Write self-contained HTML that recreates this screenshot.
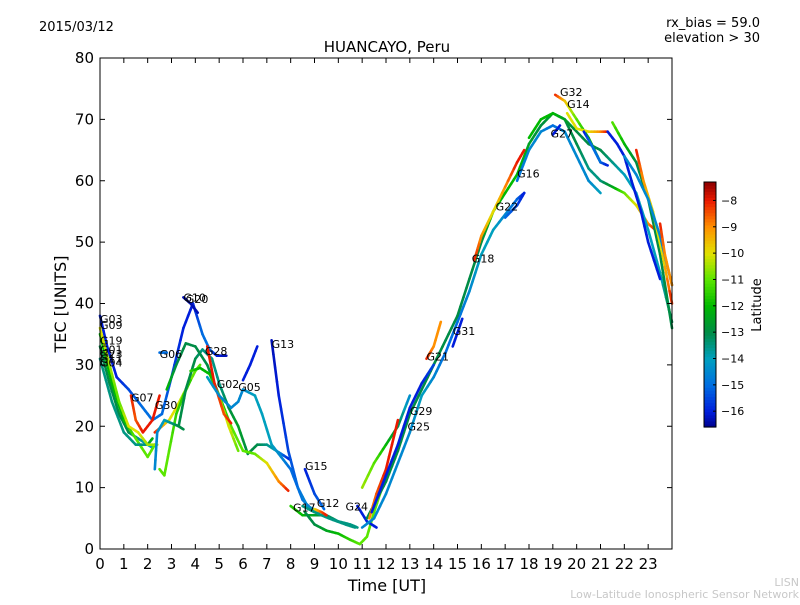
<!DOCTYPE html>
<html><head><meta charset="utf-8"><style>
body{margin:0;background:#fff;}
svg text{font-family:"DejaVu Sans","Liberation Sans",sans-serif;}
</style></head><body>
<svg id="chart" width="800" height="600" xmlns="http://www.w3.org/2000/svg">
<rect width="800" height="600" fill="#fff"/>
<text x="39" y="31" font-size="13">2015/03/12</text>
<text x="760" y="27" font-size="13" text-anchor="end">rx_bias = 59.0</text>
<text x="760" y="42" font-size="13" text-anchor="end">elevation &gt; 30</text>
<text x="387" y="52" font-size="15" text-anchor="middle">HUANCAYO, Peru</text>
<g id="marks"></g>
<rect x="100" y="58" width="572" height="491" fill="none" stroke="#000" stroke-width="1"/>
<g id="axes"></g>
<text x="387" y="591" font-size="16" text-anchor="middle">Time [UT]</text>
<text x="66" y="304" font-size="16" text-anchor="middle" transform="rotate(-90 66 304)">TEC [UNITS]</text>
<g id="cbar"></g>
<text x="761" y="305" font-size="13" text-anchor="middle" transform="rotate(-90 761 305)">Latitude</text>
<text x="799" y="586" font-size="11" fill="#c8c8c8" text-anchor="end">LISN</text>
<text x="799" y="598" font-size="11" fill="#c8c8c8" text-anchor="end">Low-Latitude Ionospheric Sensor Network</text>
</svg>
<script>
const xTicks=[0,1,2,3,4,5,6,7,8,9,10,11,12,13,14,15,16,17,18,19,20,21,22,23];
const yTicks=[0,10,20,30,40,50,60,70,80];
const cbarTicks=[-8,-9,-10,-11,-12,-13,-14,-15,-16];
// tracks: [hour, TEC, latitude]
const tracks=[
[[0,38,-16],[0.3,33,-16],[0.7,28,-16],[1.2,26,-15.5],[1.8,23,-15],[2.2,21,-15],[2.6,22,-15],[3,28,-15.5],[3.5,36,-16],[3.9,40,-16],[4.3,35,-15],[4.6,32.5,-15],[4.9,31.5,-16],[5.3,31.5,-16.3]],
[[3.5,41,-16.3],[3.8,40,-16.3],[4.1,38.5,-16.3]],
[[2.5,32,-15],[2.8,32,-15]],
[[0,33,-13],[0.4,27,-13],[0.8,22,-13],[1.2,19,-13],[1.6,18,-13.5],[2,17,-14],[2.2,16.5,-14]],
[[0,35,-12],[0.5,27,-12],[1,21,-12],[1.5,18,-11],[2,15,-11],[2.3,17,-11]],
[[0,31,-13.5],[0.5,24,-13.5],[1,19,-13.5],[1.5,17,-13.5],[2,17,-13.5],[2.2,18,-12]],
[[0,36,-10],[0.4,30,-10.5],[0.8,24,-11],[1.2,20,-10],[1.6,19,-10],[2,17,-10.5],[2.4,17,-10.5]],
[[1.3,25,-8],[1.5,21,-8.5],[1.8,19,-8],[2.2,21,-8],[2.5,25,-8]],
[[2.3,19,-8],[2.6,20,-9],[2.9,21,-10],[3.2,23,-10],[3.6,26,-10.5],[4,29,-11],[4.2,30,-11]],
[[2.5,13,-11],[2.7,12,-11],[2.9,16,-11],[3.2,22,-11.5],[3.5,25,-11.5],[3.8,27.5,-11.5]],
[[2.3,13,-14.5],[2.4,19,-14.5],[2.7,21,-14],[3,20.5,-13.5],[3.3,20,-13],[3.5,19.5,-13]],
[[3.3,20,-13],[3.6,26,-13],[4,31,-13],[4.3,32.5,-13.5],[4.7,31,-13.5],[5,27,-13.5],[5.4,23,-13],[5.8,20,-12.5],[6.2,15.5,-13],[6.6,17,-13],[7,17,-13.5],[7.4,16,-14],[7.8,15,-15.5],[8,14.5,-16]],
[[2.8,26,-12],[3.2,30,-13],[3.6,33.5,-13],[4,33,-13],[4.5,30,-13],[5,25,-12.5],[5.5,20,-11],[6,16,-11],[6.5,15.5,-11],[7,14,-10],[7.5,11,-9],[7.9,9.5,-8]],
[[3.8,29,-11.5],[4.2,29.5,-12],[4.6,28.5,-12],[5,25,-11],[5.4,20,-10],[5.8,16,-11]],
[[4.5,33,-8],[4.8,27,-8],[5.2,22,-8.5],[5.5,20.5,-8]],
[[4.5,28,-14],[5,25,-14.5],[5.5,23,-14.5],[5.8,24,-14.5],[6,26,-14.5],[6.5,25,-14],[6.8,22,-14],[7.2,17,-14],[7.6,15,-14.5],[8,13,-15],[8.5,8,-15],[9,6,-15]],
[[6,27.5,-16],[6.3,30,-16],[6.6,33,-16]],
[[7.2,34,-16.3],[7.5,25,-16],[7.9,16,-15.5],[8.3,10,-15],[8.7,7,-14.5],[9.2,6,-14]],
[[8.6,13,-16],[9,9,-15.5],[9.4,6.5,-15]],
[[8,7,-11.5],[8.5,5.5,-12],[9,5.5,-12.5],[9.5,5.5,-13],[10,4.5,-13.5],[10.5,4,-13.5],[10.8,3.5,-13.5]],
[[8.6,6,-13],[9,4,-13],[9.5,3,-12.5],[10,2.5,-12],[10.5,1.5,-11.5],[10.9,0.8,-11],[11.2,2,-11],[11.5,6,-11],[12,12,-11]],
[[8.5,7,-13.5],[9,6,-13.5],[9.6,5,-13.5],[10.3,4,-13.5],[10.7,3.5,-13.5]],
[[9,6.5,-10],[9.3,6,-8.5],[9.5,5.5,-8]],
[[10.8,7,-16],[11.2,4.5,-16],[11.6,3.5,-16]],
[[11,3.5,-14.5],[11.5,5,-14.5],[12,9,-14.5],[12.5,14,-14.5],[13,19,-14.5],[13.5,25,-14],[14,28,-14.5],[14.5,32,-15],[15,37,-15],[15.5,42,-14.5],[16,48,-14],[16.5,52,-14],[17,54.5,-14.5],[17.5,57,-15],[17.8,58,-16]],
[[11.2,5,-13],[11.6,8,-13],[12,11,-13],[12.5,16,-13],[13,22,-13],[13.5,26,-13],[14,30,-13],[14.5,34,-13],[15,38,-13],[15.5,44,-13],[16,50,-13],[16.5,55,-12],[17,58,-12],[17.5,61,-12],[18,66,-12.5],[18.5,69,-13],[19,71,-12.5],[19.5,70,-13],[20,66,-13],[20.5,62,-13.5],[21,60,-13.5],[21.5,59,-12.5],[22,58,-11],[22.5,56,-10],[23,53,-9],[23.3,52,-8]],
[[11,10,-10.5],[11.5,14,-11],[12,17,-12],[12.5,20,-13],[13,25,-14.5]],
[[11.3,5,-9],[11.6,9,-8.5],[12,13,-8],[12.5,21,-8]],
[[11.4,6,-16],[12,12,-16],[12.5,17,-16],[13,23,-16],[13.5,27,-16],[14,30,-15.5]],
[[13.7,31,-8],[14,33,-9],[14.3,37,-9]],
[[14.8,33,-16],[15.2,37.5,-16]],
[[15.7,47,-8],[16,51,-9],[16.5,55,-10],[17,59,-9],[17.5,63,-8],[17.8,65,-8]],
[[17,54,-15],[17.5,56,-15.5],[17.8,58,-16]],
[[17.5,60,-15],[18,65,-14.5],[18.5,68,-14.5],[19,69,-15],[19.5,68,-14.5],[20,64,-14.5],[20.5,60,-14.5],[21,58,-14]],
[[18,67,-12],[18.5,70,-12],[19,71,-12],[19.5,70,-12.5],[20,68,-13],[20.5,66,-13],[21,65,-13],[21.5,63,-13.5],[22,61,-14],[22.5,58,-14],[23,52,-14],[23.5,45,-14],[24,37,-13]],
[[19.1,74,-8],[19.5,73,-9.5],[20,70,-11],[20.5,67,-12],[21,63,-13]],
[[19.6,71,-10],[20,68.5,-10],[20.5,68,-10],[21,68,-9],[21.3,68,-8]],
[[19,67.5,-16],[19.3,69,-16]],
[[20.3,68,-16],[20.6,66,-15],[21,63,-15],[21.3,62.5,-16]],
[[21.3,68,-16],[21.7,66,-16],[22,64,-16],[22.3,60,-16],[22.7,55,-16],[23,50,-16],[23.5,44,-16]],
[[21.5,69.5,-11],[22,66,-12],[22.5,63,-13],[23,57,-13],[23.5,48,-13],[24,36,-13]],
[[22.5,65,-8],[22.8,60,-9],[23.2,55,-10],[23.6,48,-10],[24,40,-8]],
[[22,64,-14.5],[22.5,61,-14.5],[23,57,-14.5],[23.5,51,-14.5],[24,43,-15]],
[[23.5,53,-8],[23.7,48,-9],[24,43,-9]]
];
const prnLabels=["G03","G09","G19","G01","G23","G11","G04","G07","G30","G06","G10","G20","G28","G02","G05","G13","G15","G17","G12","G24","G29","G25","G21","G31","G18","G22","G16","G27","G32","G14"];
const prnHours=[0,0,0,0,0,0,0,1.3,2.3,2.5,3.5,3.6,4.4,4.9,5.8,7.2,8.6,8.1,9.1,10.3,13,12.9,13.7,14.8,15.6,16.6,17.5,18.9,19.3,19.6];
const prnTec=[37.5,36.5,34,32.5,31.8,31,30.4,24.7,23.5,31.8,41,40.7,32.3,26.9,26.4,33.4,13.5,6.8,7.5,6.9,22.5,20,31.4,35.5,47.3,55.8,61.2,67.7,74.5,72.5];

const NS="http://www.w3.org/2000/svg";
const X0=100,X1=672,Y0=549,Y1=58;
const xs=h=>X0+h*(X1-X0)/24;
const ys=v=>Y0-v*(Y0-Y1)/80;
const LMIN=-16.6,LMAX=-7.3;
const cmLat=[-16.6,-16,-15,-14,-13,-12,-11,-10,-9,-8,-7.3];
const cmRGB=[[0,0,140],[0,30,220],[0,110,225],[0,160,190],[0,140,70],[0,185,0],[90,230,0],[225,225,0],[255,145,0],[235,25,0],[140,0,0]];
function latColor(l){
 if(l<=cmLat[0])return `rgb(${cmRGB[0]})`;
 for(let i=0;i<cmLat.length-1;i++){
  if(l<=cmLat[i+1]){const t=(l-cmLat[i])/(cmLat[i+1]-cmLat[i]);
   const c=cmRGB[i].map((v,k)=>Math.round(v+(cmRGB[i+1][k]-v)*t));return `rgb(${c})`;}
 }
 return `rgb(${cmRGB[cmRGB.length-1]})`;
}
const mk=(tag,attrs,parent)=>{const e=document.createElementNS(NS,tag);for(const k in attrs)e.setAttribute(k,attrs[k]);parent.appendChild(e);return e;};
const marks=document.getElementById('marks');
tracks.forEach((tr,i)=>{
 const g=mk('g',{},marks);
 
 
 for(let j=0;j<tr.length-1;j++){
  const a=tr[j],b=tr[j+1];
  const steps=4;
  for(let s=0;s<steps;s++){
   const t0=s/steps,t1=(s+1)/steps;
   const l=a[2]+(b[2]-a[2])*(t0+t1)/2;
   const ln=mk('line',{x1:xs(a[0]+(b[0]-a[0])*t0),y1:ys(a[1]+(b[1]-a[1])*t0),x2:xs(a[0]+(b[0]-a[0])*t1),y2:ys(a[1]+(b[1]-a[1])*t1),stroke:latColor(l),'stroke-width':2.6,'stroke-linecap':'round'},g);
   
   
  }
 }
});
prnLabels.forEach((p,i)=>{
 const t=mk('text',{x:xs(prnHours[i]),y:ys(prnTec[i])+4,'font-size':11,fill:'#000'},marks);
 t.textContent=p;
 
 
});
const axes=document.getElementById('axes');
xTicks.forEach(h=>{
 const x=xs(h);
 const l1=mk('line',{x1:x,y1:Y0,x2:x,y2:Y0-5,stroke:'#000'},axes);
 
 
 const l2=mk('line',{x1:x,y1:Y1,x2:x,y2:Y1+5,stroke:'#000'},axes);
 
 
 const t=mk('text',{x:x,y:Y0+20,'font-size':15,'text-anchor':'middle'},axes);
 t.textContent=h;
 
 
});
yTicks.forEach(v=>{
 const y=ys(v);
 const l1=mk('line',{x1:X0,y1:y,x2:X0+5,y2:y,stroke:'#000'},axes);
 
 
 const l2=mk('line',{x1:X1,y1:y,x2:X1-5,y2:y,stroke:'#000'},axes);
 
 
 const t=mk('text',{x:X0-6,y:y+5,'font-size':15,'text-anchor':'end'},axes);
 t.textContent=v;
 
 
});
const cb=document.getElementById('cbar');
const CY0=182,CY1=427,CX=704,CW=12;
const cy=l=>CY1-(l-LMIN)*(CY1-CY0)/(LMAX-LMIN);
for(let i=0;i<80;i++){
 const l=LMIN+(LMAX-LMIN)*i/80,l2=LMIN+(LMAX-LMIN)*(i+1)/80;
 const r=mk('rect',{x:CX,y:cy(l2),width:CW,height:cy(l)-cy(l2)+0.6,fill:latColor((l+l2)/2)},cb);
 
 
}
const fr=mk('rect',{x:CX,y:CY0,width:CW,height:CY1-CY0,fill:'none',stroke:'#000'},cb);


cbarTicks.forEach(v=>{
 const y=cy(v);
 const l=mk('line',{x1:CX+CW-3,y1:y,x2:CX+CW,y2:y,stroke:'#000'},cb);
 
 
 const t=mk('text',{x:CX+CW+5,y:y+4,'font-size':11},cb);
 t.textContent='\u2212'+Math.abs(v);
 
 
});
</script>
</body></html>
